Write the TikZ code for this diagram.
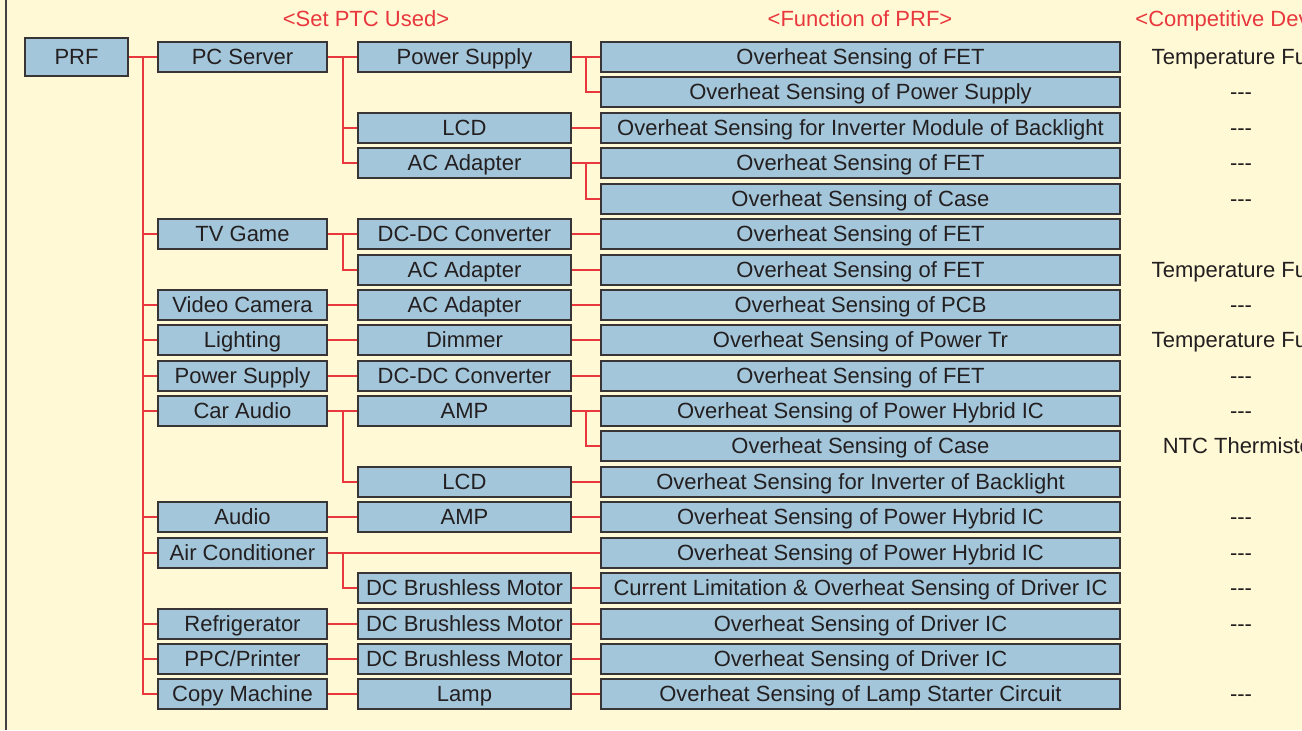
\documentclass[tikz,border=0pt]{standalone}
\usepackage{fontspec}
\setmainfont{Liberation Sans}
\definecolor{bgcream}{HTML}{FFF9D6}
\definecolor{boxblue}{HTML}{A3C6DA}
\definecolor{linered}{HTML}{E8383D}
\definecolor{txtdark}{HTML}{231F20}
\tikzset{
 box/.style={draw=txtdark!90, line width=0.9pt, fill=boxblue, inner sep=0pt,
  minimum height=15pt, text height=7.9pt, text depth=0pt, text=txtdark,
  font=\fontsize{11}{12}\selectfont},
 root/.style={box, minimum width=51.5pt, minimum height=19pt},
 app/.style={box, minimum width=84.5pt},
 part/.style={box, minimum width=106.5pt},
 func/.style={box, minimum width=259.5pt},
 wire/.style={draw=linered, line width=0.75pt},
 head/.style={text=linered, inner sep=0pt, text height=7.9pt, text depth=0pt,
  font=\fontsize{11}{12}\selectfont},
 rival/.style={text=txtdark, inner sep=0pt, text height=7.9pt, text depth=0pt,
  font=\fontsize{11}{12}\selectfont}
}
\newcommand{\nodev}{-{}-{}-}

\begin{document}
\begin{tikzpicture}[x=0.5pt, y=-0.5pt]
 \clip (0,0) rectangle (1302,730);
 \fill[bgcream] (0,0) rectangle (1302,730);
 \draw[txtdark!85, line width=1pt] (6,0) -- (6,730);

 % headings
 \node[head] (h1) at (366,19) {<Set PTC Used>};
 \node[head] (h2) at (860,19) {<Function of PRF>};
 \node[head, anchor=west] (h3) at (1135,19) {<Competitive Devices>};

 % root
 \node[root] (prf) at (76.5,57) {PRF};

 % set
 \node[app] (pc) at (242.5,57) {PC Server};
 \node[app] (tv) at (242.5,234) {TV Game};
 \node[app] (vc) at (242.5,305) {Video Camera};
 \node[app] (li) at (242.5,340) {Lighting};
 \node[app] (pw) at (242.5,376) {Power Supply};
 \node[app] (ca) at (242.5,411) {Car Audio};
 \node[app] (au) at (242.5,517) {Audio};
 \node[app] (ac) at (242.5,553) {Air Conditioner};
 \node[app] (rf) at (242.5,624) {Refrigerator};
 \node[app] (pp) at (242.5,659) {PPC/Printer};
 \node[app] (cm) at (242.5,694) {Copy Machine};

 % PTC used
 \node[part] (ps) at (464.5,57) {Power Supply};
 \node[part] (lcdA) at (464.5,128) {LCD};
 \node[part] (adA) at (464.5,163) {AC Adapter};
 \node[part] (dcA) at (464.5,234) {DC-DC Converter};
 \node[part] (adB) at (464.5,270) {AC Adapter};
 \node[part] (adC) at (464.5,305) {AC Adapter};
 \node[part] (dim) at (464.5,340) {Dimmer};
 \node[part] (dcB) at (464.5,376) {DC-DC Converter};
 \node[part] (ampA) at (464.5,411) {AMP};
 \node[part] (lcdB) at (464.5,482) {LCD};
 \node[part] (ampB) at (464.5,517) {AMP};
 \node[part] (bmA) at (464.5,588) {DC Brushless Motor};
 \node[part] (bmB) at (464.5,624) {DC Brushless Motor};
 \node[part] (bmC) at (464.5,659) {DC Brushless Motor};
 \node[part] (lamp) at (464.5,694) {Lamp};

 % function
 \node[func] (f0) at (860.5,57) {Overheat Sensing of FET};
 \node[func] (f1) at (860.5,92) {Overheat Sensing of Power Supply};
 \node[func] (f2) at (860.5,128) {Overheat Sensing for Inverter Module of Backlight};
 \node[func] (f3) at (860.5,163) {Overheat Sensing of FET};
 \node[func] (f4) at (860.5,199) {Overheat Sensing of Case};
 \node[func] (f5) at (860.5,234) {Overheat Sensing of FET};
 \node[func] (f6) at (860.5,270) {Overheat Sensing of FET};
 \node[func] (f7) at (860.5,305) {Overheat Sensing of PCB};
 \node[func] (f8) at (860.5,340) {Overheat Sensing of Power Tr};
 \node[func] (f9) at (860.5,376) {Overheat Sensing of FET};
 \node[func] (f10) at (860.5,411) {Overheat Sensing of Power Hybrid IC};
 \node[func] (f11) at (860.5,446) {Overheat Sensing of Case};
 \node[func] (f12) at (860.5,482) {Overheat Sensing for Inverter of Backlight};
 \node[func] (f13) at (860.5,517) {Overheat Sensing of Power Hybrid IC};
 \node[func] (f14) at (860.5,553) {Overheat Sensing of Power Hybrid IC};
 \node[func] (f15) at (860.5,588) {Current Limitation \& Overheat Sensing of Driver IC};
 \node[func] (f16) at (860.5,624) {Overheat Sensing of Driver IC};
 \node[func] (f17) at (860.5,659) {Overheat Sensing of Driver IC};
 \node[func] (f18) at (860.5,694) {Overheat Sensing of Lamp Starter Circuit};

 % competitive devices
 \node[rival] (r0) at (1241,57) {Temperature Fuse};
 \node[rival] (r1) at (1241,92) {\nodev};
 \node[rival] (r2) at (1241,128) {\nodev};
 \node[rival] (r3) at (1241,163) {\nodev};
 \node[rival] (r4) at (1241,199) {\nodev};
 \node[rival] (r6) at (1241,270) {Temperature Fuse};
 \node[rival] (r7) at (1241,305) {\nodev};
 \node[rival] (r8) at (1241,340) {Temperature Fuse};
 \node[rival] (r9) at (1241,376) {\nodev};
 \node[rival] (r10) at (1241,411) {\nodev};
 \node[rival] (r11) at (1241,446) {NTC Thermistor};
 \node[rival] (r13) at (1241,517) {\nodev};
 \node[rival] (r14) at (1241,553) {\nodev};
 \node[rival] (r15) at (1241,588) {\nodev};
 \node[rival] (r16) at (1241,624) {\nodev};
 \node[rival] (r18) at (1241,694) {\nodev};

 % junctions
 \coordinate (j0) at (143,57);
 \coordinate (j1) at (343,57);
 \coordinate (j2) at (343,234);
 \coordinate (j3) at (343,411);
 \coordinate (j4) at (343,553);
 \coordinate (k0) at (586,57);
 \coordinate (k1) at (586,163);
 \coordinate (k2) at (586,411);

 % root to set
 \draw[wire] (prf) -- (pc);
 \draw[wire] (j0) |- (tv.west);
 \draw[wire] (j0) |- (vc.west);
 \draw[wire] (j0) |- (li.west);
 \draw[wire] (j0) |- (pw.west);
 \draw[wire] (j0) |- (ca.west);
 \draw[wire] (j0) |- (au.west);
 \draw[wire] (j0) |- (ac.west);
 \draw[wire] (j0) |- (rf.west);
 \draw[wire] (j0) |- (pp.west);
 \draw[wire] (j0) |- (cm.west);

 % set to PTC used
 \draw[wire] (pc) -- (ps);
 \draw[wire] (j1) |- (lcdA.west);
 \draw[wire] (j1) |- (adA.west);
 \draw[wire] (tv) -- (dcA);
 \draw[wire] (j2) |- (adB.west);
 \draw[wire] (vc) -- (adC);
 \draw[wire] (li) -- (dim);
 \draw[wire] (pw) -- (dcB);
 \draw[wire] (ca) -- (ampA);
 \draw[wire] (j3) |- (lcdB.west);
 \draw[wire] (au) -- (ampB);
 \draw[wire] (ac) -- (f14);
 \draw[wire] (j4) |- (bmA.west);
 \draw[wire] (rf) -- (bmB);
 \draw[wire] (pp) -- (bmC);
 \draw[wire] (cm) -- (lamp);

 % PTC used to function
 \draw[wire] (ps) -- (f0);
 \draw[wire] (k0) |- (f1.west);
 \draw[wire] (lcdA) -- (f2);
 \draw[wire] (adA) -- (f3);
 \draw[wire] (k1) |- (f4.west);
 \draw[wire] (dcA) -- (f5);
 \draw[wire] (adB) -- (f6);
 \draw[wire] (adC) -- (f7);
 \draw[wire] (dim) -- (f8);
 \draw[wire] (dcB) -- (f9);
 \draw[wire] (ampA) -- (f10);
 \draw[wire] (k2) |- (f11.west);
 \draw[wire] (lcdB) -- (f12);
 \draw[wire] (ampB) -- (f13);
 \draw[wire] (bmA) -- (f15);
 \draw[wire] (bmB) -- (f16);
 \draw[wire] (bmC) -- (f17);
 \draw[wire] (lamp) -- (f18);
\end{tikzpicture}
\end{document}
